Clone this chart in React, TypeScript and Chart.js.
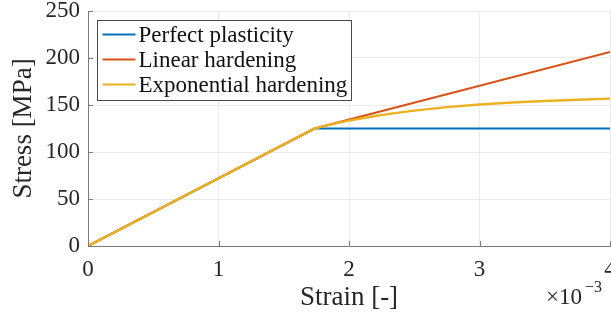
import React, { useEffect, useRef } from "react";
import { Chart, registerables } from "chart.js";

Chart.register(...registerables);

// strain in units of 1e-3, stress in MPa
const seriesNames = ["Perfect plasticity", "Linear hardening", "Exponential hardening"];
const seriesColors = ["#0072BD", "#D95319", "#EDB120"];

const strainPerfect = [0, 1.736, 4.0];
const stressPerfect = [0, 125, 125];

const strainLinear = [0, 1.736, 4.0];
const stressLinear = [0, 125, 206.5];

const strainExp = [0, 1.736, 1.8, 1.9, 2.0, 2.1, 2.2, 2.35, 2.5, 2.75, 3.0, 3.25, 3.5, 3.75, 4.0];
const stressExp = [0, 125, 127.2, 130.4, 133.3, 135.9, 138.3, 141.4, 144.0, 147.7, 150.5, 152.6, 154.3, 155.6, 156.8];

const xTicks = [0, 1, 2, 3, 4];
const yTicks = [0, 50, 100, 150, 200, 250];

const FONT = "'Liberation Serif', 'DejaVu Serif', serif";

const toPoints = (xs: number[], ys: number[]) => xs.map((x, i) => ({ x, y: ys[i] }));

const overlayPlugin = {
  id: "overlay",
  afterDatasetsDraw(chart: any) {
    const ctx = chart.ctx;
    const area = chart.chartArea;
    const xs = chart.scales.x;
    const ys = chart.scales.y;
    ctx.save();
    // inward tick marks
    ctx.strokeStyle = "#7a7a7a";
    ctx.lineWidth = 1;
    xTicks.forEach((t) => {
      const px = Math.round(xs.getPixelForValue(t)) + 0.5;
      ctx.beginPath();
      ctx.moveTo(px, area.bottom);
      ctx.lineTo(px, area.bottom - 5);
      ctx.stroke();
    });
    yTicks.forEach((t) => {
      const py = Math.round(ys.getPixelForValue(t)) + 0.5;
      ctx.beginPath();
      ctx.moveTo(area.left, py);
      ctx.lineTo(area.left + 5, py);
      ctx.stroke();
    });

    // legend
    const lx = area.left + 9.5;
    const ly = area.top + 9.5;
    const lw = 254;
    const lh = 80;
    ctx.fillStyle = "#ffffff";
    ctx.fillRect(lx, ly, lw, lh);
    ctx.strokeStyle = "#4a4a4a";
    ctx.lineWidth = 1;
    ctx.strokeRect(lx, ly, lw, lh);
    ctx.font = `23px ${FONT}`;
    ctx.textBaseline = "middle";
    ctx.textAlign = "left";
    seriesNames.forEach((name, i) => {
      const cy = ly + 14 + i * 25;
      ctx.strokeStyle = seriesColors[i];
      ctx.lineWidth = 2;
      ctx.beginPath();
      ctx.moveTo(lx + 5, cy);
      ctx.lineTo(lx + 38, cy);
      ctx.stroke();
      ctx.fillStyle = "#111111";
      ctx.fillText(name, lx + 41, cy + 1);
    });

    // exponent label
    ctx.fillStyle = "#262626";
    ctx.textAlign = "left";
    ctx.font = `23px ${FONT}`;
    ctx.fillText("\u00d710", 546, 298);
    ctx.font = `16px ${FONT}`;
    ctx.fillText("\u22123", 585, 288);
    ctx.restore();
  },
};

export default function App() {
  const ref = useRef<HTMLCanvasElement>(null);
  useEffect(() => {
    document.body.style.margin = "0";
    const canvas = ref.current!;
    const chart = new Chart(canvas, {
      type: "line",
      data: {
        datasets: [
          {
            label: seriesNames[0],
            data: toPoints(strainPerfect, stressPerfect),
            borderColor: seriesColors[0],
            borderWidth: 2,
            pointRadius: 0,
            order: 2,
          },
          {
            label: seriesNames[1],
            data: toPoints(strainLinear, stressLinear),
            borderColor: seriesColors[1],
            borderWidth: 2,
            pointRadius: 0,
            order: 1,
          },
          {
            label: seriesNames[2],
            data: toPoints(strainExp, stressExp),
            borderColor: seriesColors[2],
            borderWidth: 2.4,
            pointRadius: 0,
            order: 0,
          },
        ],
      },
      options: {
        animation: false,
        responsive: false,
        layout: { padding: { left: 0, right: 1, top: 11, bottom: 0 } },
        plugins: { legend: { display: false }, tooltip: { enabled: false } },
        scales: {
          x: {
            type: "linear",
            min: 0,
            max: 4,
            afterBuildTicks: (s: any) => {
              s.ticks = xTicks.map((v) => ({ value: v }));
            },
            afterFit: (s: any) => {
              s.height = 74;
              s.paddingLeft = 0;
              s.paddingRight = 0;
            },
            grid: { color: "#ebebeb", drawTicks: false },
            border: { color: "#7a7a7a", width: 1 },
            ticks: {
              padding: 10,
              color: "#262626",
              font: { family: FONT, size: 23 },
              maxRotation: 0,
              autoSkip: false,
            },
            title: {
              display: true,
              text: "Strain [-]",
              color: "#262626",
              font: { family: FONT, size: 27 },
              padding: { top: 0, bottom: 6 },
            },
          },
          y: {
            type: "linear",
            min: 0,
            max: 250,
            afterBuildTicks: (s: any) => {
              s.ticks = yTicks.map((v) => ({ value: v }));
            },
            afterFit: (s: any) => {
              s.width = 88;
              s.paddingTop = 0;
              s.paddingBottom = 0;
            },
            grid: { color: "#ebebeb", drawTicks: false },
            border: { color: "#7a7a7a", width: 1 },
            ticks: {
              padding: 8,
              color: "#262626",
              font: { family: FONT, size: 23 },
              autoSkip: false,
            },
            title: {
              display: true,
              text: "Stress [MPa]",
              color: "#262626",
              font: { family: FONT, size: 27 },
              padding: { top: 8, bottom: 0 },
            },
          },
        },
      },
      plugins: [overlayPlugin],
    });
    return () => chart.destroy();
  }, []);
  return <canvas ref={ref} width={611} height={320} style={{ display: "block" }} />;
}
